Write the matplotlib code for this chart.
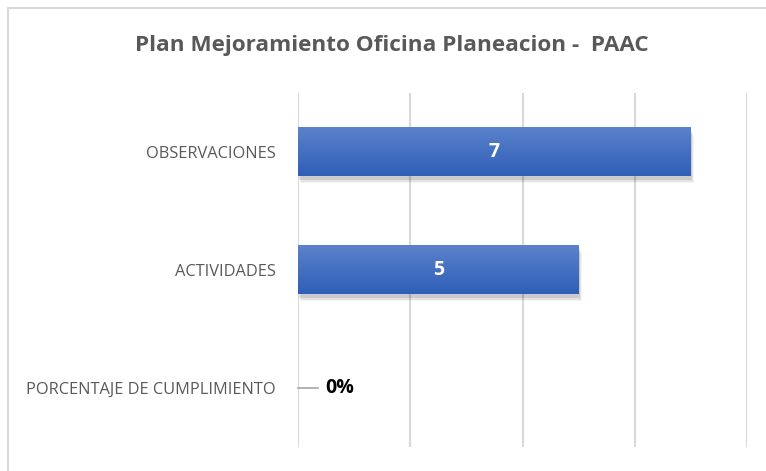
import numpy as np
import matplotlib.pyplot as plt
from matplotlib.patches import Rectangle

# chart data
categories = ["PORCENTAJE DE CUMPLIMIENTO", "ACTIVIDADES", "OBSERVACIONES"]
values = [0, 5, 7]
labels = ["0%", "5", "7"]
xticks = [0, 2, 4, 6, 8]

plt.rcParams['font.family'] = ['Open Sans', 'DejaVu Sans']

fig = plt.figure(figsize=(7.66, 4.71), dpi=100)
ax = fig.add_axes([298/766, 1-447/471, (747-298)/766, (447-93)/471])

# outer frame of the chart box
fig.patches.append(Rectangle((7.5/766, -0.01), 1.2, 1-7.5/471+0.01,
                             transform=fig.transFigure, fill=False,
                             edgecolor="#d9d9d9", linewidth=1.5))

y = np.arange(len(categories))
bars = ax.barh(y, values, height=0.41, color="none", zorder=3)

# gradient fill + soft shadow on each bar
grad = np.linspace(0, 1, 64).reshape(-1, 1)
cmap = plt.matplotlib.colors.LinearSegmentedColormap.from_list(
    "g", ["#2f5fb8", "#5b82cb"])
for b in bars:
    x0, y0, w, h = b.get_x(), b.get_y(), b.get_width(), b.get_height()
    if w <= 0:
        continue
    for k, a in enumerate([0.10, 0.07, 0.04]):
        ax.add_patch(Rectangle((x0 + 0.02 + 0.02*k, y0 - 0.03 - 0.015*k), w, h,
                               facecolor="black", alpha=a, linewidth=0, zorder=2))
    ax.imshow(grad, extent=[x0, x0 + w, y0, y0 + h], origin="lower",
              cmap=cmap, aspect="auto", zorder=3)

# data labels
for i, (v, lab) in enumerate(zip(values, labels)):
    if v > 0:
        ax.text(v/2, i, lab, ha="center", va="center", color="white",
                fontsize=14, fontweight="bold", zorder=4)
    else:
        ax.plot([0, 0.36], [i, i], color="#a6a6a6", linewidth=1.2, zorder=4,
                clip_on=False)
        ax.text(0.48, i, lab, ha="left", va="center", color="black",
                fontsize=14, fontweight="bold", zorder=4)

ax.set_xlim(0, 8)
ax.set_ylim(-0.5, len(categories) - 0.5)
ax.set_xticks(xticks)
ax.set_xticklabels([])
ax.tick_params(axis="x", length=0)
ax.set_yticks(y)
ax.set_yticklabels(categories, color="#595959", fontsize=11.8)
ax.tick_params(axis="y", length=0, pad=16)
ax.grid(True, axis="x", color="#d9d9d9", linewidth=1.5, zorder=0)
ax.set_axisbelow(True)
for s in ax.spines.values():
    s.set_visible(False)

fig.text(392/766, 1-45/471, "Plan Mejoramiento Oficina Planeacion -  PAAC",
         ha="center", va="center", color="#595959", fontsize=16.2,
         fontweight="bold")

fig.savefig("out.png", dpi=100)
